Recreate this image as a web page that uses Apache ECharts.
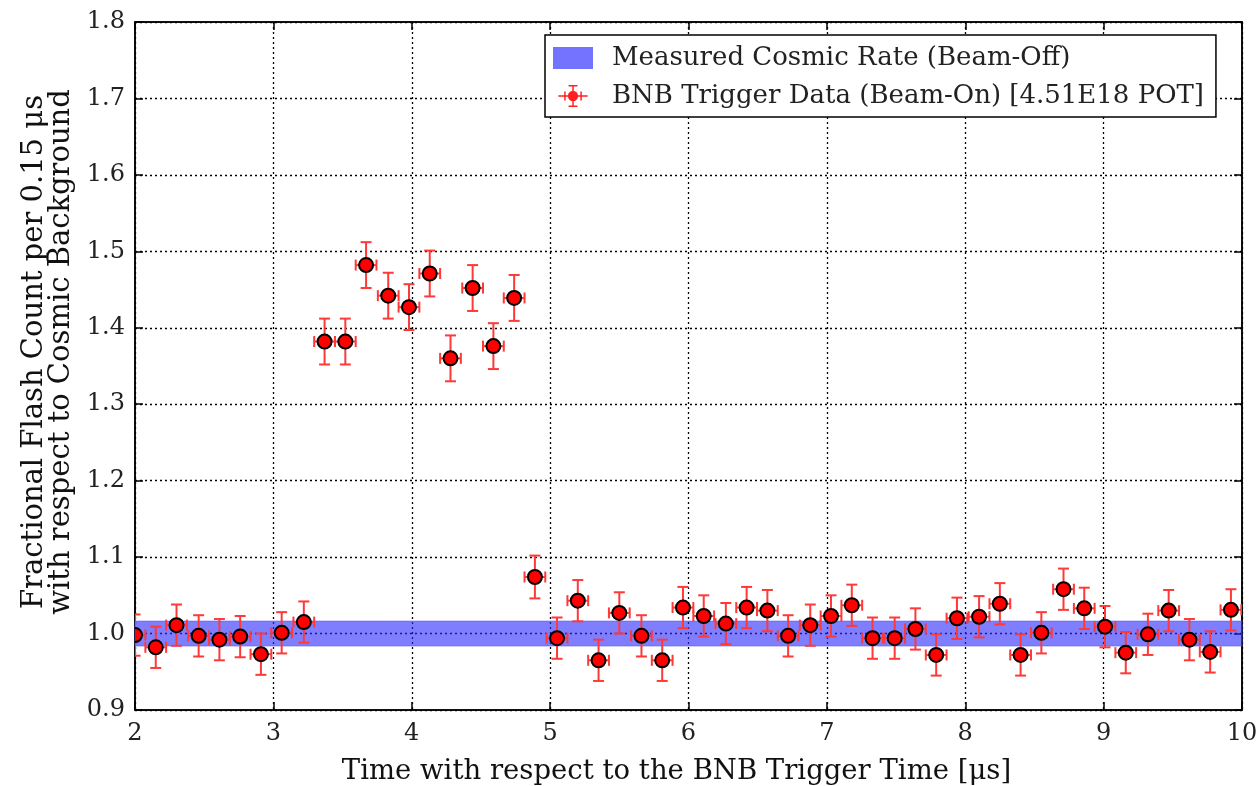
<!DOCTYPE html>
<html><head><meta charset="utf-8">
<script src="https://cdn.jsdelivr.net/npm/echarts@6/dist/echarts.min.js"></script>
<style>html,body{margin:0;padding:0;background:#fff}#c{width:1259px;height:786px}</style>
</head><body><div id="c"></div>
<script>
const xTicks = [2,3,4,5,6,7,8,9,10];
const yTicks = [0.9,1.0,1.1,1.2,1.3,1.4,1.5,1.6,1.7,1.8];
const timeX = [2.00,2.15,2.30,2.46,2.61,2.76,2.91,3.06,3.22,3.37,3.52,3.67,3.83,3.98,4.13,4.28,4.44,4.59,4.74,4.89,
  5.05,5.20,5.35,5.50,5.66,5.81,5.96,6.11,6.27,6.42,6.57,6.72,6.88,7.03,7.18,7.33,7.49,7.64,7.79,7.94,8.10,8.25,8.40,
  8.55,8.71,8.86,9.01,9.16,9.32,9.47,9.62,9.77,9.92];
const fracY = [0.998,0.982,1.011,0.997,0.992,0.996,0.973,1.001,1.015,1.382,1.382,1.482,1.442,1.427,1.471,1.360,1.452,1.376,1.439,1.074,
  0.994,1.043,0.965,1.027,0.997,0.965,1.034,1.023,1.013,1.034,1.030,0.997,1.011,1.023,1.037,0.994,0.994,1.006,0.972,1.020,1.022,1.039,0.972,
  1.001,1.058,1.033,1.009,0.975,0.999,1.030,0.992,0.976,1.031];
const yErr = [0.027,0.027,0.027,0.027,0.027,0.027,0.027,0.027,0.027,0.030,0.030,0.030,0.030,0.030,0.030,0.030,0.030,0.030,0.030,0.028,
  0.027,0.027,0.027,0.027,0.027,0.027,0.027,0.027,0.027,0.027,0.027,0.027,0.027,0.027,0.027,0.027,0.027,0.027,0.027,0.027,0.027,0.027,0.027,
  0.027,0.027,0.027,0.027,0.027,0.027,0.027,0.027,0.027,0.027];
const xErr = [0.075];
const cosmicBand = [0.9836, 1.0164];
const bandName = 'Measured Cosmic Rate (Beam-Off)';
const dataName = 'BNB Trigger Data (Beam-On) [4.51E18 POT]';

const FONT = 'DejaVu Serif';
const pts = timeX.map((x,i)=>[x, fracY[i], xErr[0], yErr[i]]);

const chart = echarts.init(document.getElementById('c'), null, {renderer:'canvas'});
const axisCommon = {
  axisLine:{show:true, lineStyle:{color:'#000', width:1.5}},
  axisTick:{show:true, inside:true, length:8, lineStyle:{color:'#000', width:1.5}},
};
chart.setOption({
  animation:false,
  backgroundColor:'#fff',
  textStyle:{fontFamily:FONT},
  grid:{left:135, right:17, top:22, bottom:76, show:true, borderColor:'#000', borderWidth:1.5,
        containLabel:false, outerBoundsMode:'none'},
  xAxis:[{
    type:'value', min:xTicks[0], max:xTicks[xTicks.length-1], interval:1,
    ...axisCommon,
    axisLabel:{color:'#222', fontFamily:FONT, fontSize:24, margin:12},
    splitLine:{show:true, lineStyle:{color:'#000', type:[2,3], width:1.3}},
    name:'Time with respect to the BNB Trigger Time [\u03bcs]', nameLocation:'middle', nameGap:48,
    nameTextStyle:{color:'#111', fontFamily:FONT, fontSize:27.5, padding:[0,24,0,0]}
  },{
    type:'value', position:'top', min:xTicks[0], max:xTicks[xTicks.length-1], interval:1,
    ...axisCommon, axisLabel:{show:false}, splitLine:{show:false}
  }],
  yAxis:[{
    type:'value', min:yTicks[0], max:yTicks[yTicks.length-1], interval:0.1,
    ...axisCommon,
    axisLabel:{color:'#222', fontFamily:FONT, fontSize:24, margin:10, formatter:v=>v.toFixed(1)},
    splitLine:{show:true, lineStyle:{color:'#000', type:[2,3], width:1.3}},
    name:'Fractional Flash Count per 0.15 \u03bcs\nwith respect to Cosmic Background', nameLocation:'middle', nameGap:60,
    nameTextStyle:{color:'#111', fontFamily:FONT, fontSize:29, lineHeight:27, padding:[0,0,0,28]}
  },{
    type:'value', position:'right', min:yTicks[0], max:yTicks[yTicks.length-1], interval:0.1,
    ...axisCommon, axisLabel:{show:false}, splitLine:{show:false}
  }],
  legend:{
    left:545, top:35, orient:'vertical', backgroundColor:'#fff', borderColor:'#000', borderWidth:1.5,
    padding:[10,12,8,8], itemGap:12, itemWidth:40, itemHeight:22,
    textStyle:{fontFamily:FONT, fontSize:26, color:'#222', padding:[0,0,0,14]},
    data:[
      {name:bandName, icon:'rect', itemStyle:{color:'rgba(90,90,255,0.85)'}},
      {name:dataName, icon:'path://M0,14h40v2h-40z M19,0h2v30h-2z M8,9h2v12h-2z M30,9h2v12h-2z M14,0h12v2h-12z M14,28h12v2h-12z M27,15a7,7 0 1,1 -14,0a7,7 0 1,1 14,0z',
       itemStyle:{color:'#ff2020', borderWidth:0}}
    ]
  },
  series:[
    {
      name:bandName, type:'line', data:[], color:'rgba(90,90,255,0.85)',
      markArea:{silent:true, itemStyle:{color:'rgba(40,40,255,0.6)', borderColor:'rgba(80,80,255,0.5)', borderWidth:1},
        data:[[{xAxis:xTicks[0], yAxis:cosmicBand[0]},{xAxis:xTicks[xTicks.length-1], yAxis:cosmicBand[1]}]]}
    },
    {
      name:dataName, type:'custom', clip:true, color:'#ff2020',
      data:pts,
      renderItem:(params, api)=>{
        const x=api.value(0), y=api.value(1), ex=api.value(2), ey=api.value(3);
        const c=api.coord([x,y]);
        const l=api.coord([x-ex,y]), r=api.coord([x+ex,y]);
        const t=api.coord([x,y+ey]), b=api.coord([x,y-ey]);
        const st={stroke:'#ff3838', lineWidth:2};
        const cap=5.5;
        const g=params.coordSys;
        return {type:'group',
          clipPath:{type:'rect', shape:{x:g.x, y:g.y, width:g.width, height:g.height}},
          children:[
          {type:'line', shape:{x1:l[0],y1:c[1],x2:r[0],y2:c[1]}, style:st},
          {type:'line', shape:{x1:c[0],y1:t[1],x2:c[0],y2:b[1]}, style:st},
          {type:'line', shape:{x1:l[0],y1:c[1]-cap,x2:l[0],y2:c[1]+cap}, style:st},
          {type:'line', shape:{x1:r[0],y1:c[1]-cap,x2:r[0],y2:c[1]+cap}, style:st},
          {type:'line', shape:{x1:c[0]-cap,y1:t[1],x2:c[0]+cap,y2:t[1]}, style:st},
          {type:'line', shape:{x1:c[0]-cap,y1:b[1],x2:c[0]+cap,y2:b[1]}, style:st},
          {type:'circle', shape:{cx:c[0],cy:c[1],r:7}, style:{fill:'#ff0000', stroke:'#000', lineWidth:2}}
        ]};
      }
    }
  ]
});
</script></body></html>
